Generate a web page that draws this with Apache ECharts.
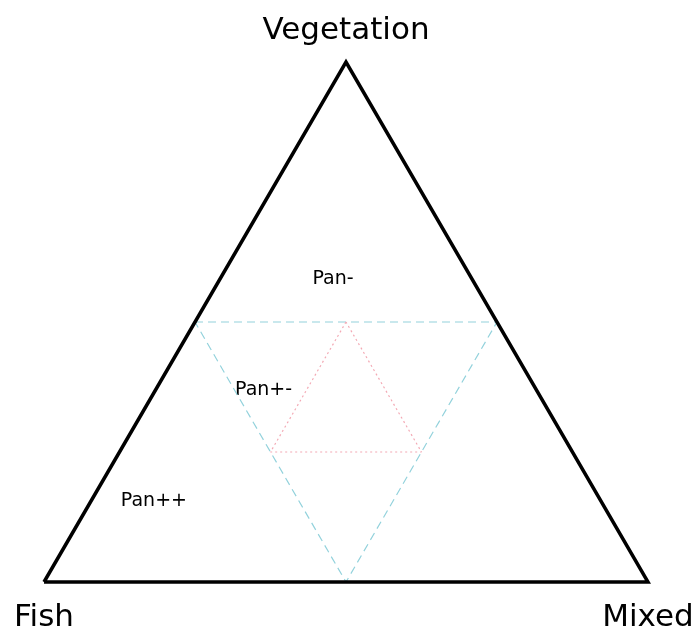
<!DOCTYPE html>
<html>
<head>
<meta charset="utf-8">
<script src="https://cdn.jsdelivr.net/npm/echarts@6/dist/echarts.min.js"></script>
<style>
  html, body { margin: 0; padding: 0; background: #fff; }
  #chart { width: 694px; height: 631px; }
</style>
</head>
<body>
<div id="chart"></div>
<script>
// ternary compositions: [fish, mixed, vegetation]
var corners = ['Fish', 'Mixed', 'Vegetation'];
var outerTriangle = [[1, 0, 0], [0, 1, 0], [0, 0, 1], [1, 0, 0]];
var midTriangle = [[0.5, 0, 0.5], [0, 0.5, 0.5], [0.5, 0.5, 0], [0.5, 0, 0.5]];
var innerTriangle = [[0.25, 0.25, 0.5], [0.5, 0.25, 0.25], [0.25, 0.5, 0.25], [0.25, 0.25, 0.5]];
var zoneNames = ['Pan-', 'Pan+-', 'Pan++'];
var zonePoints = [[0.23, 0.187, 0.583], [0.452, 0.179, 0.369], [0.74, 0.104, 0.156]];

var H = Math.sqrt(3) / 2;

// ternary -> cartesian (Fish at origin, Mixed at x=1)
function toXY(p) {
  var s = p[0] + p[1] + p[2];
  var m = p[1] / s, v = p[2] / s;
  return [m + v / 2, v * H];
}

var chart = echarts.init(document.getElementById('chart'));

var cornerData = [
  { value: toXY([1, 0, 0]), name: corners[0], label: { offset: [0, 36] } },
  { value: toXY([0, 1, 0]), name: corners[1], label: { offset: [0, 36] } },
  { value: toXY([0, 0, 1]), name: corners[2], label: { offset: [0, -31] } }
];

var zoneData = zonePoints.map(function (p, i) {
  return { value: toXY(p), name: zoneNames[i] };
});

var option = {
  backgroundColor: '#fff',
  animation: false,
  grid: { left: 44, right: 46, top: 62, bottom: 49 },
  xAxis: { type: 'value', min: 0, max: 1, show: false },
  yAxis: { type: 'value', min: 0, max: H, show: false },
  series: [
    {
      type: 'line',
      data: midTriangle.map(toXY),
      symbol: 'none',
      silent: true,
      lineStyle: { color: '#93d2dc', width: 1.2, type: [8, 5] }
    },
    {
      type: 'line',
      data: innerTriangle.map(toXY),
      symbol: 'none',
      silent: true,
      lineStyle: { color: '#f3a9b4', width: 1.2, type: [2, 3] }
    },
    {
      type: 'line',
      data: outerTriangle.map(toXY),
      symbol: 'none',
      silent: true,
      clip: false,
      lineStyle: { color: '#000', width: 3.5, join: 'miter', miterLimit: 20 }
    },
    {
      type: 'scatter',
      data: zoneData,
      symbolSize: 0,
      silent: true,
      itemStyle: { opacity: 1 },
      label: {
        show: true,
        position: 'inside',
        formatter: '{b}',
        color: '#000',
        fontFamily: 'DejaVu Sans',
        fontSize: 19
      }
    },
    {
      type: 'scatter',
      data: cornerData,
      symbolSize: 0,
      silent: true,
      clip: false,
      itemStyle: { opacity: 1 },
      label: {
        show: true,
        position: 'inside',
        formatter: '{b}',
        color: '#000',
        fontFamily: 'DejaVu Sans',
        fontSize: 31
      }
    }
  ]
};

chart.setOption(option);
window.onresize = chart.resize;
</script>
</body>
</html>
